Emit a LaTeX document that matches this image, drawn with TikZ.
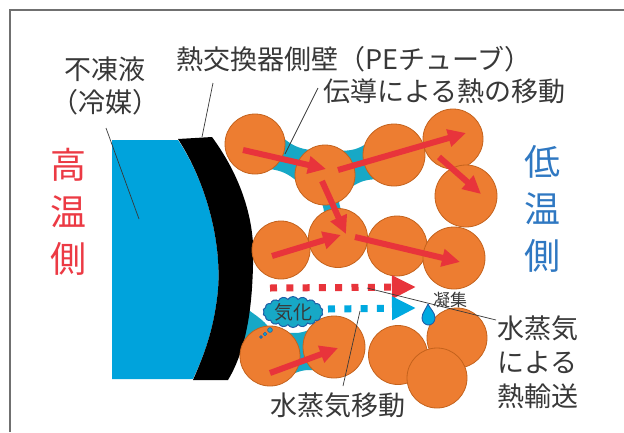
\documentclass[tikz,border=0pt]{standalone}
\usepackage{fontspec}
\newfontfamily\jp{Noto Sans CJK JP}
\usetikzlibrary{arrows.meta,calc,shapes.symbols}
\definecolor{coolant}{HTML}{00A3DC}
\definecolor{bridgecol}{HTML}{17A8C6}
\definecolor{grainfill}{HTML}{ED7D31}
\definecolor{grainedge}{HTML}{C4621C}
\definecolor{heatred}{HTML}{E8343B}
\definecolor{vapblue}{HTML}{00A9E0}
\definecolor{cloudedge}{HTML}{1F5FA8}
\definecolor{hotred}{HTML}{EC3A44}
\definecolor{coldblue}{HTML}{2F78C2}
\definecolor{framegray}{HTML}{707070}
\definecolor{ink}{HTML}{383838}

% liquid bridge between two grains: #1,#2 grain names, #3 half-width at the ends, #4 control offset at the waist
\newcommand\liqbridge[4]{%
  \coordinate (bm) at ($(#1)!0.5!(#2)$);
  \fill[bridgecol] ($(#1)!#3!90:(#2)$) .. controls ($(bm)!#4!90:(#2)$) .. ($(#2)!#3!-90:(#1)$)
    -- ($(#2)!#3!90:(#1)$) .. controls ($(bm)!#4!-90:(#2)$) .. ($(#1)!#3!-90:(#2)$) -- cycle;}

\begin{document}
\begin{tikzpicture}[x=1pt,y=-1pt,
  grain/.style={circle, fill=grainfill, draw=grainedge, line width=0.8pt, minimum size=#1, inner sep=0pt},
  heat/.style={heatred, line width=6pt, -{Triangle[length=18pt,width=17pt]}},
  vapour/.style={line width=7pt, dash pattern=on 7pt off 9.3pt, -{Triangle[length=24pt,width=22pt]}},
  lead/.style={ink, line width=0.7pt},
  lbl/.style={font=\jp\fontsize{27}{33}\selectfont, text=ink, inner sep=0pt},
  side/.style={font=\jp\fontsize{36}{47}\selectfont, inner sep=0pt, align=center}]
\useasboundingbox (0,0) rectangle (624,432);
\fill[white] (0,0) rectangle (624,432);

% frame
\draw[framegray, line width=1.5pt] (10,432) -- (10,10) -- (624,10);

% grain positions
\coordinate (c1) at (255,144);
\coordinate (c2) at (325,175);
\coordinate (c3) at (394,155);
\coordinate (c4) at (453,139);
\coordinate (c5) at (466,196);
\coordinate (m1) at (281,250);
\coordinate (m2) at (338,238);
\coordinate (m3) at (397,246);
\coordinate (m4) at (454,258);
\coordinate (b1) at (270,356);
\coordinate (b2) at (334,347);
\coordinate (b3) at (398,355);
\coordinate (b4) at (457,338);
\coordinate (b5) at (437,378);

% water held between grains
\liqbridge{c1}{c2}{25pt}{11pt}
\liqbridge{c2}{c3}{27pt}{13pt}
\liqbridge{c2}{m2}{18pt}{5pt}
\liqbridge{b1}{b2}{28pt}{16pt}
\fill[bridgecol] (246,308) .. controls (256,316) and (268,322) .. (272,334)
  -- (258,346) -- (240,348) -- cycle;

% coolant and tube wall
\fill[coolant] (112,140) -- (178,140) .. controls (205,180) and (222,240) .. (218,290)
  .. controls (214,330) and (204,355) .. (193,379) -- (112,379) -- cycle;
\fill[black] (212,137) .. controls (240,175) and (256,220) .. (253,265)
  .. controls (252,310) and (246,350) .. (228,380) -- (193,380)
  .. controls (204,355) and (214,330) .. (218,290)
  .. controls (222,240) and (205,180) .. (178,139) -- cycle;

% grains
\node[grain=60pt] (g1) at (c1) {};
\node[grain=60pt] (g2) at (c2) {};
\node[grain=62pt] (g3) at (c3) {};
\node[grain=60pt] (g4) at (c4) {};
\node[grain=62pt] (g5) at (c5) {};
\node[grain=58pt] (h1) at (m1) {};
\node[grain=59pt] (h2) at (m2) {};
\node[grain=60pt] (h3) at (m3) {};
\node[grain=62pt] (h4) at (m4) {};
\node[grain=60pt] (k1) at (b1) {};
\node[grain=62pt] (k2) at (b2) {};
\node[grain=59pt] (k3) at (b3) {};
\node[grain=60pt] (k4) at (b4) {};
\node[grain=60pt] (k5) at (b5) {};

% conduction through the grains
\draw[heat] ($(g1)+(-12,6)$) -- ($(g2)+(1,-6)$);
\draw[heat] ($(g2)+(13,-5)$) -- ($(g4)+(13,-6)$);
\draw[heat] ($(g4)+(-14,18)$) -- ($(g5)+(15,-2)$);
\draw[heat] ($(g2)+(-3,6)$) -- ($(h2)+(8,-4)$);
\draw[heat] ($(h1)+(-9,6)$) -- ($(h2)+(3,-3)$);
\draw[heat] ($(h2)+(17,-1)$) -- ($(h4)+(6,4)$);
\draw[heat] ($(k1)+(0,17)$) -- ($(k2)+(4,1)$);

% vapour transport
\coordinate (rs) at (270,288);
\coordinate (re) at (416,287);
\coordinate (bs) at (328,309);
\coordinate (be) at (416,308);
\draw[vapour, heatred] (rs) -- (re);
\draw[vapour, vapblue] (bs) -- (be);

% evaporation cloud
\node[cloud, cloud puffs=18, cloud puff arc=120, aspect=2.1, minimum width=60pt, minimum height=31pt,
  inner sep=-2pt, fill=bridgecol, draw=cloudedge, line width=1pt,
  font=\jp\fontsize{19}{19}\selectfont, text=ink] (vap) at (293,312) {気化};
\filldraw[fill=bridgecol, draw=cloudedge, line width=0.6pt] (270,330) circle (2.4pt)
  (265,334) circle (1.8pt) (261,337) circle (1.4pt);

% condensed droplet
\filldraw[fill=vapblue, draw=cloudedge, line width=0.9pt] (428,304)
  .. controls (430,309) and (435,312) .. (435,318)
  .. controls (435,322) and (432,325) .. (428.5,325)
  .. controls (425,325) and (422,322) .. (422,318)
  .. controls (422,313) and (426,309) .. (428,304);

% labels
\node[lbl, align=center] (tcool) at (105,86) {不凍液\\（冷媒）};
\node[lbl, anchor=west] (twall) at (176,59) {熱交換器側壁（PEチューブ）};
\node[lbl, anchor=west] (tcond) at (323,91) {伝導による熱の移動};
\node[lbl, anchor=west] (tmove) at (270,405) {水蒸気移動};
\node[lbl, anchor=west, align=left, font=\jp\fontsize{27}{34}\selectfont] (tvap) at (497,362) {水蒸気\\による\\熱輸送};
\node[lbl, font=\jp\fontsize{17}{17}\selectfont] (tcond2) at (450,300) {凝集};
\node[side, text=hotred] (thot) at (68,212) {高\\温\\側};
\node[side, text=coldblue] (tcold) at (542,209) {低\\温\\側};

% leader lines
\coordinate (l1a) at (106,128);  \coordinate (l1b) at (139,219);
\coordinate (l2a) at (213,83);   \coordinate (l2b) at (202,137);
\coordinate (l3a) at (318,88);   \coordinate (l3b) at (285,154);
\coordinate (l4a) at (360,311);  \coordinate (l4b) at (343,386);
\coordinate (l5a) at (367,288);  \coordinate (l5b) at (496,320);
\draw[lead] (l1a) -- (l1b);
\draw[lead] (l2a) -- (l2b);
\draw[lead] (l3a) -- (l3b);
\draw[lead] (l4a) -- (l4b);
\draw[lead] (l5a) -- (l5b);
\end{tikzpicture}
\end{document}
